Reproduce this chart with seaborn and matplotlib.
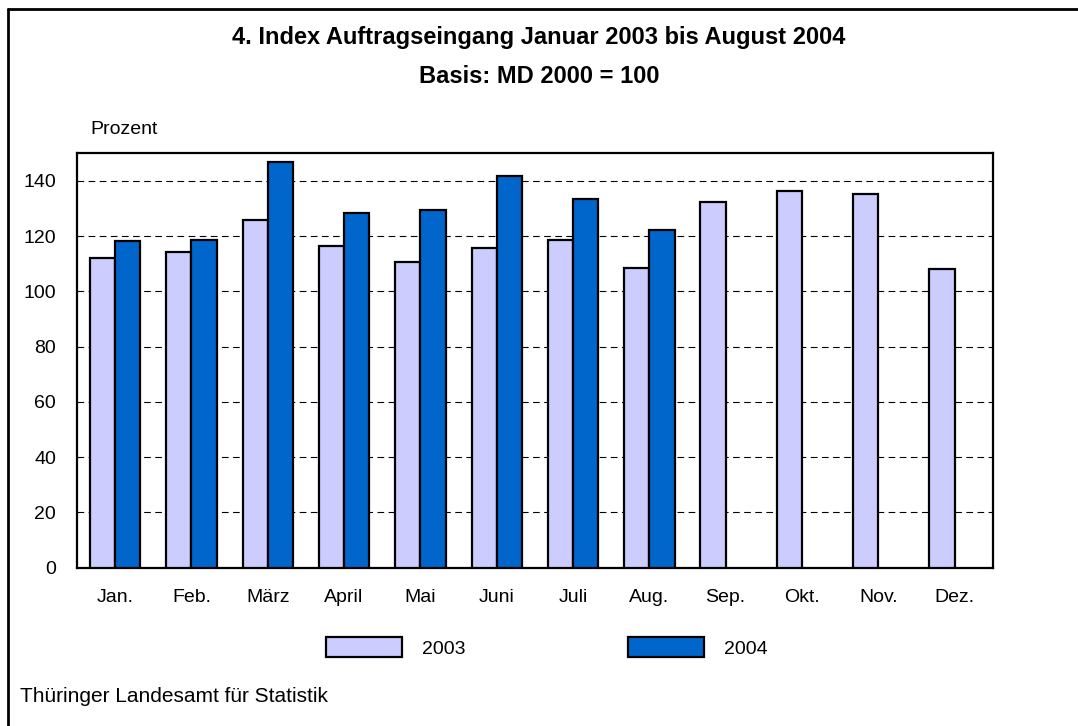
import matplotlib
matplotlib.use('Agg')
import matplotlib.pyplot as plt
from matplotlib.patches import Patch
from matplotlib.lines import Line2D
import seaborn as sns
import pandas as pd
import numpy as np

# ── Data ────────────────────────────────────────────────────
months = ['Jan.', 'Feb.', 'März', 'April', 'Mai', 'Juni',
          'Juli', 'Aug.', 'Sep.', 'Okt.', 'Nov.', 'Dez.']
idx_2003 = [112.0, 114.3, 125.9, 116.3, 110.6, 115.6,
            118.8, 108.6, 132.5, 136.4, 135.2, 108.0]
idx_2004 = [118.1, 118.5, 146.7, 128.4, 129.4, 141.8,
            133.4, 122.4, np.nan, np.nan, np.nan, np.nan]
years = ['2003', '2004']

df = pd.DataFrame({
    'Monat': months * 2,
    'Jahr': [years[0]] * 12 + [years[1]] * 12,
    'Index': idx_2003 + idx_2004,
})

C2003 = '#ccccff'
C2004 = '#0066cc'

# ── Style ───────────────────────────────────────────────────
sns.set_style('white')
plt.rcParams['font.family'] = ['Liberation Sans', 'DejaVu Sans']
plt.rcParams['text.color'] = 'black'

fig = plt.figure(figsize=(10.78, 7.26), dpi=100, facecolor='white')
ax = fig.add_axes([0.0714, 0.2180, 0.9209 - 0.0714, 0.7888 - 0.2180])

sns.barplot(data=df, x='Monat', y='Index', hue='Jahr', order=months,
            hue_order=years, palette={'2003': C2003, '2004': C2004},
            saturation=1, width=0.66, gap=0, errorbar=None, edgecolor='black',
            linewidth=1.6, ax=ax, zorder=3, legend=False)

ax.set_ylim(0, 150)
ax.set_yticks(range(0, 141, 20))
ax.set_xlabel('')
ax.set_ylabel('')
ax.yaxis.grid(True, color='black', linewidth=0.8, linestyle=(0, (6, 4)), zorder=0)
ax.xaxis.grid(False)
ax.set_axisbelow(True)
ax.tick_params(axis='both', length=0, labelsize=14, colors='black')
ax.tick_params(axis='y', pad=15)
ax.tick_params(axis='x', pad=15)
for sp in ax.spines.values():
    sp.set_visible(True)
    sp.set_color('black')
    sp.set_linewidth(1.6)

# ── Texts ───────────────────────────────────────────────────
fig.text(0.5, 0.9477, '4. Index Auftragseingang Januar 2003 bis August 2004',
         ha='center', va='center', fontsize=17, fontweight='bold')
fig.text(0.5, 0.8953, 'Basis: MD 2000 = 100',
         ha='center', va='center', fontsize=17, fontweight='bold')
fig.text(90 / 1078, 1 - 130 / 726, 'Prozent', ha='left', va='center', fontsize=14)
fig.text(20 / 1078, 1 - 697 / 726, 'Thüringer Landesamt für Statistik',
         ha='left', va='center', fontsize=15)

# ── Legend ──────────────────────────────────────────────────
handles = [Patch(facecolor=C2003, edgecolor='black', linewidth=1.6),
           Patch(facecolor=C2004, edgecolor='black', linewidth=1.6)]
fig.legend(handles, years, loc='center', bbox_to_anchor=(547 / 1078, 1 - 647.5 / 726),
           ncol=2, frameon=False, fontsize=14, handlelength=3.9,
           handleheight=1.18, handletextpad=1.03, columnspacing=8.35)

# ── Figure border (top and left) ────────────────────────────
fig.add_artist(Line2D([7.5 / 1078, 7.5 / 1078], [0, 1 - 8.5 / 726],
                      color='black', linewidth=2, transform=fig.transFigure))
fig.add_artist(Line2D([7.5 / 1078, 1], [1 - 8.5 / 726, 1 - 8.5 / 726],
                      color='black', linewidth=2, transform=fig.transFigure))

plt.savefig('out.png', dpi=100, facecolor='white')
